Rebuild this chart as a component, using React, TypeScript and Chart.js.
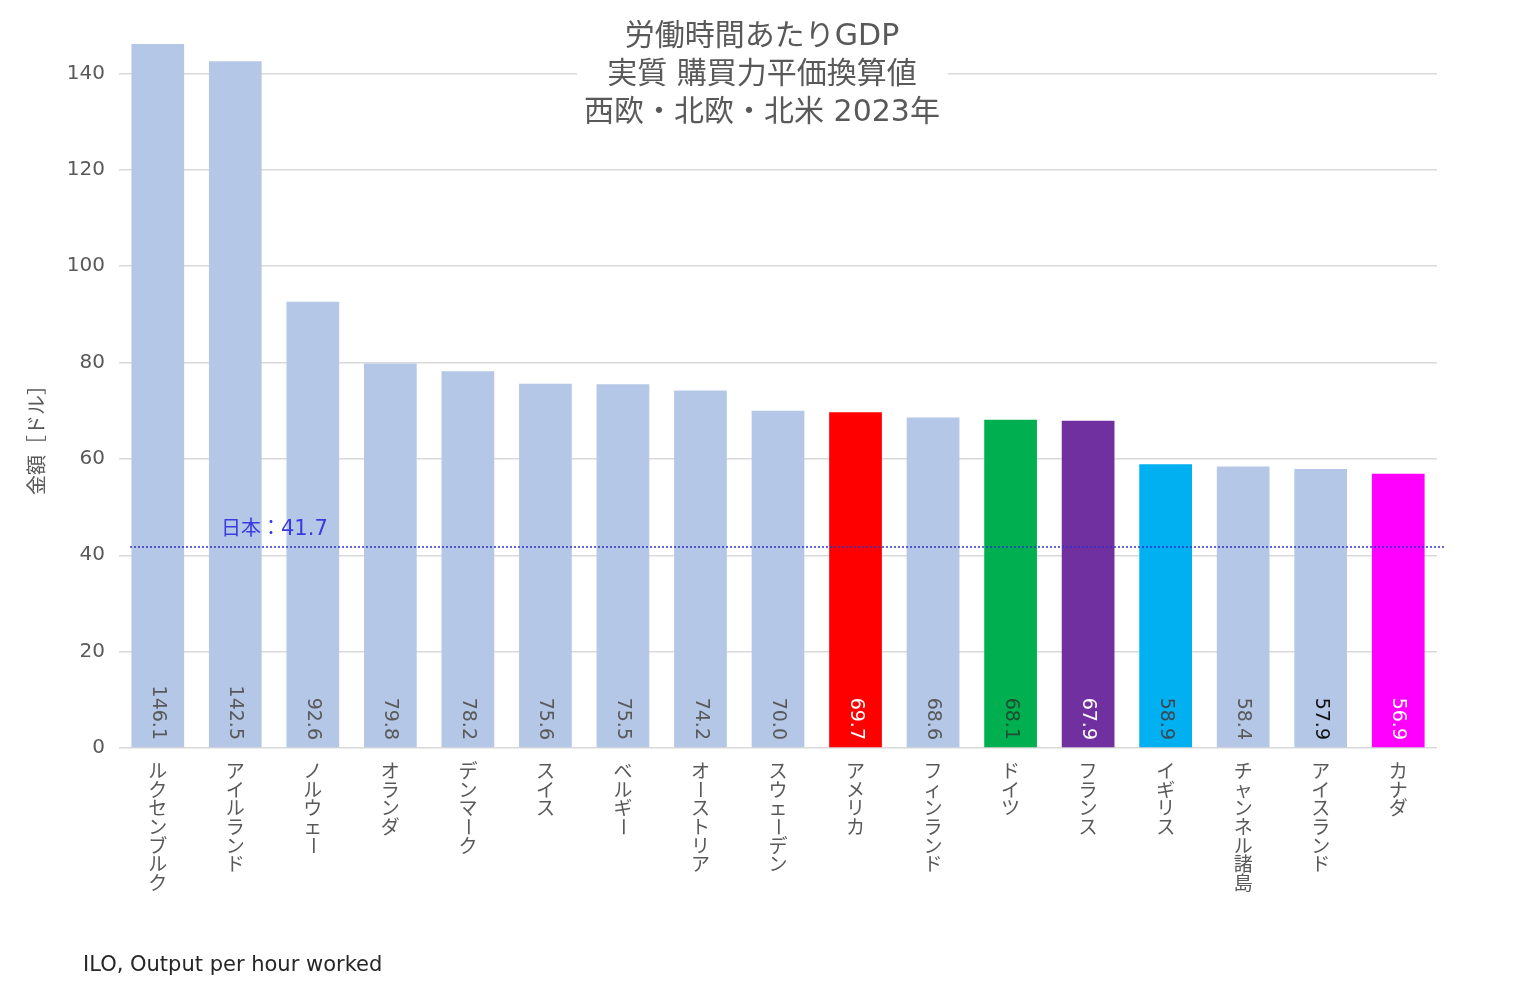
import React, { useEffect, useRef } from "react";
import { Chart, registerables } from "chart.js";

Chart.register(...registerables);

const categories = [
  "ルクセンブルク", "アイルランド", "ノルウェー", "オランダ", "デンマーク", "スイス",
  "ベルギー", "オーストリア", "スウェーデン", "アメリカ", "フィンランド", "ドイツ",
  "フランス", "イギリス", "チャンネル諸島", "アイスランド", "カナダ",
];
const values = [146.1, 142.5, 92.6, 79.8, 78.2, 75.6, 75.5, 74.2, 70.0, 69.7, 68.6, 68.1, 67.9, 58.9, 58.4, 57.9, 56.9];
const japanValue = 41.7;
const japanLabelName = "日本：";
const japanLabelValue = "41.7";
const titleLines = ["労働時間あたりGDP", "実質 購買力平価換算値", "西欧・北欧・北米 2023年"];
const yAxisTitle = "金額［ドル］";
const sourceText = "ILO, Output per hour worked";

const highlight: Record<string, string> = {
  "アメリカ": "#ff0000",
  "ドイツ": "#00b050",
  "フランス": "#7030a0",
  "イギリス": "#00b0f0",
  "カナダ": "#ff00ff",
};
const labelColor: Record<string, string> = {
  "アメリカ": "#ffffff",
  "ドイツ": "#1f4d2f",
  "フランス": "#ffffff",
  "イギリス": "#3a4a55",
  "アイスランド": "#111111",
  "カナダ": "#ffffff",
};

const FONT = "'DejaVu Sans', 'Noto Sans CJK JP', sans-serif";
const CJK = "'Noto Sans CJK JP', 'Noto Sans', sans-serif";
const GRAY = "#595959";

export default function App() {
  const ref = useRef<HTMLCanvasElement | null>(null);
  useEffect(() => {
    document.body.style.margin = "0";
    const canvas = ref.current!;
    const overlay = {
      id: "overlay",
      afterDatasetsDraw(chart: any) {
        const ctx = chart.ctx;
        const x = chart.scales.x;
        const y = chart.scales.y;
        const area = chart.chartArea;
        ctx.save();
        // data labels
        ctx.font = `19px ${FONT}`;
        ctx.textAlign = "right";
        ctx.textBaseline = "middle";
        values.forEach((v, i) => {
          const px = x.getPixelForValue(i);
          ctx.save();
          ctx.translate(px, area.bottom - 8);
          ctx.rotate(Math.PI / 2);
          ctx.fillStyle = labelColor[categories[i]] || GRAY;
          ctx.fillText(v.toFixed(1), 0, 0);
          ctx.restore();
        });
        // japan line
        const jy = y.getPixelForValue(japanValue);
        ctx.strokeStyle = "#3030d0";
        ctx.lineWidth = 1.6;
        ctx.setLineDash([2, 2]);
        ctx.beginPath();
        ctx.moveTo(area.left + 11, jy);
        ctx.lineTo(area.right + 8, jy);
        ctx.stroke();
        ctx.setLineDash([]);
        ctx.fillStyle = "#3a3ae0";
        ctx.textAlign = "left";
        ctx.textBaseline = "alphabetic";
        ctx.font = `20px ${CJK}`;
        ctx.fillText(japanLabelName, 221, jy - 12);
        const w = ctx.measureText(japanLabelName).width;
        ctx.font = `21px ${FONT}`;
        ctx.fillText(japanLabelValue, 221 + w, jy - 12);
        // x labels (vertical text)
        ctx.fillStyle = GRAY;
        ctx.font = `19px ${CJK}`;
        ctx.textAlign = "center";
        ctx.textBaseline = "middle";
        categories.forEach((c, i) => {
          const px = x.getPixelForValue(i);
          const chars = Array.from(c);
          chars.forEach((ch, k) => {
            const cy = area.bottom + 23 + k * 18.6;
            if (ch === "ー") {
              ctx.save();
              ctx.translate(px, cy);
              ctx.rotate(Math.PI / 2);
              ctx.fillText(ch, 0, 0);
              ctx.restore();
            } else {
              ctx.fillText(ch, px, cy);
            }
          });
        });
        // title with white background
        ctx.fillStyle = "#ffffff";
        ctx.fillRect(577, 14, 371, 116);
        ctx.fillStyle = GRAY;
        ctx.font = `30px ${FONT}`;
        ctx.textAlign = "center";
        ctx.textBaseline = "middle";
        titleLines.forEach((t, k) => ctx.fillText(t, 762, 37 + k * 38));
        // y axis title
        ctx.save();
        ctx.translate(36, 435);
        ctx.rotate(-Math.PI / 2);
        ctx.font = `20px ${CJK}`;
        ctx.fillStyle = GRAY;
        ctx.fillText(yAxisTitle, 0, 0);
        ctx.restore();
        // source
        ctx.fillStyle = "#262626";
        ctx.font = `21px ${FONT}`;
        ctx.textAlign = "left";
        ctx.fillText(sourceText, 83, 966);
        ctx.restore();
      },
    };
    const chart = new Chart(canvas, {
      type: "bar",
      data: {
        labels: categories,
        datasets: [
          {
            data: values,
            backgroundColor: categories.map((c) => highlight[c] || "#b4c7e7"),
            barPercentage: 0.68,
            categoryPercentage: 1,
          },
        ],
      },
      options: {
        animation: false,
        responsive: false,
        devicePixelRatio: 1,
        layout: { padding: { top: 44, right: 87, left: 0, bottom: 0 } },
        plugins: { legend: { display: false }, tooltip: { enabled: false }, title: { display: false } },
        scales: {
          x: {
            ticks: { display: false },
            grid: { display: false },
            border: { display: false },
            afterFit: (s: any) => { s.height = 247; },
          },
          y: {
            min: 0,
            max: Math.max(...values),
            afterBuildTicks: (s: any) => { s.ticks = s.ticks.filter((t: any) => t.value % 20 === 0); },
            ticks: {
              stepSize: 20,
              color: GRAY,
              font: { family: FONT, size: 20 },
              padding: 14,
            },
            grid: { color: "#d9d9d9", lineWidth: 1.5, drawTicks: false },
            border: { display: false },
            afterFit: (s: any) => { s.width = 119; },
          },
        },
      },
      plugins: [overlay],
    });
    return () => chart.destroy();
  }, []);
  return (
    <div style={{ width: 1524, height: 995, overflow: "hidden", background: "#fff" }}>
      <canvas ref={ref} width={1524} height={995} style={{ display: "block" }} />
    </div>
  );
}
